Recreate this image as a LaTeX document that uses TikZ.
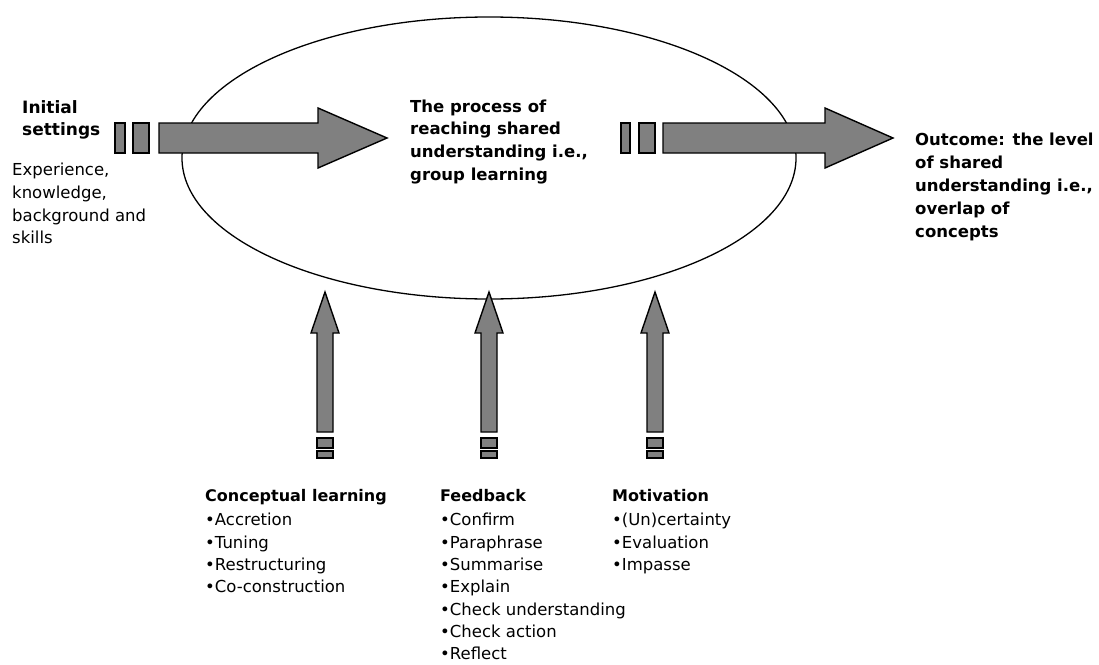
\documentclass[tikz,border=0pt]{standalone}
\usepackage{fontspec}
\setmainfont{DejaVu Sans}
\usetikzlibrary{shapes.geometric}
\tikzset{
  blk/.style={draw=black,fill=black!50,line width=1.4pt,line join=miter},
  lbl/.style={anchor=north west,inner sep=0pt,align=left},
}

\begin{document}
\begin{tikzpicture}[x=1pt,y=-1pt]
\useasboundingbox (0,0) rectangle (1099,664);
\node[draw,ellipse,line width=1.3pt,minimum width=614pt,minimum height=282pt,inner sep=0pt] (proc) at (489,158) {};
% horizontal arrows
\draw[blk] (115,123) rectangle (125,153);
\draw[blk] (133,123) rectangle (149,153);
\draw[blk] (159,123)--(318,123)--(318,108)--(387,138)--(318,168)--(318,153)--(159,153)--cycle;
\draw[blk] (621,123) rectangle (630,153);
\draw[blk] (639,123) rectangle (655,153);
\draw[blk] (663,123)--(825,123)--(825,108)--(893,138)--(825,168)--(825,153)--(663,153)--cycle;
% vertical arrows
\foreach \cx in {325,489,655} {
  \draw[blk] (\cx-8,432)--(\cx-8,333)--(\cx-14,333)--(\cx,292)--(\cx+14,333)--(\cx+8,333)--(\cx+8,432)--cycle;
  \draw[blk] (\cx-8,438) rectangle (\cx+8,448);
  \draw[blk] (\cx-8,451) rectangle (\cx+8,458);
}
\node[lbl,font=\fontsize{17}{22.5}\selectfont\bfseries] (init) at (22,100) {Initial\\settings};
\node[lbl,font=\fontsize{16.5}{22.7}\selectfont] (initdesc) at (12,163) {Experience,\\knowledge,\\background and\\skills};
\node[lbl,font=\fontsize{16.5}{22.7}\selectfont\bfseries] (proclbl) at (410,99.5) {The process of\\reaching shared\\understanding i.e.,\\group learning};
\node[lbl,font=\fontsize{16.5}{23}\selectfont\bfseries] (outcome) at (915,132.5) {Outcome: the level\\of shared\\understanding i.e.,\\overlap of\\concepts};
\node[lbl,font=\fontsize{16.5}{22.3}\selectfont] (concept) at (205,489) {{\fontsize{16}{20}\selectfont\bfseries Conceptual learning}\\[2.3pt]•Accretion\\•Tuning\\•Restructuring\\•Co-construction};
\node[lbl,font=\fontsize{16.5}{22.3}\selectfont] (feedback) at (440,489) {{\fontsize{16}{20}\selectfont\bfseries Feedback}\\[2.3pt]•Confirm\\•Paraphrase\\•Summarise\\•Explain\\•Check understanding\\•Check action\\•Reflect};
\node[lbl,font=\fontsize{16.5}{22.3}\selectfont] (motiv) at (612,489) {{\fontsize{16}{20}\selectfont\bfseries Motivation}\\[2.3pt]•(Un)certainty\\•Evaluation\\•Impasse};
\end{tikzpicture}
\end{document}
